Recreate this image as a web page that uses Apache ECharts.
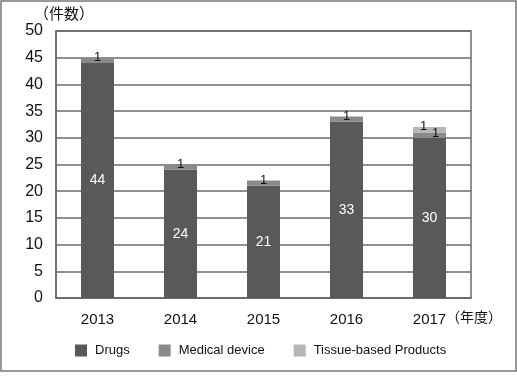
<!DOCTYPE html>
<html><head><meta charset="utf-8">
<script src="https://cdn.jsdelivr.net/npm/echarts@6/dist/echarts.min.js"></script>
<style>html,body{margin:0;padding:0;background:#fff}#c{width:517px;height:376px}</style>
</head><body><div id="c"></div>
<script>
const years = ['2013','2014','2015','2016','2017'];
const drugs = [44, 24, 21, 33, 30];
const medicalDevice = [1, 1, 1, 1, 1];
const tissueProducts = [0, 0, 0, 0, 1];
const yTicks = [0,5,10,15,20,25,30,35,40,45,50];

const font = '"Liberation Sans", Arial, sans-serif';
const chart = echarts.init(document.getElementById('c'));
function smallLabels(arr, dx) {
  return arr.map((v, i) => {
    const both = tissueProducts[i] > 0;
    return {
      value: v,
      label: {
        show: v > 0,
        offset: both ? [dx, dx > 0 ? 1 : -1] : [0, 0]
      }
    };
  });
}
const smallLabel = {
  show: true, position: ['50%', 0], align: 'center', verticalAlign: 'middle',
  color: '#111', fontSize: 13, fontFamily: font
};
chart.setOption({
  animation: false,
  grid: { left: 56, right: 46, top: 31, bottom: 78, show: true, borderColor: '#6a6a6a', borderWidth: 1.5 },
  xAxis: {
    type: 'category', data: years,
    axisLine: { lineStyle: { color: '#6a6a6a', width: 1.5 } },
    axisTick: { show: false },
    axisLabel: { color: '#111', fontSize: 15, fontFamily: font, margin: 14 }
  },
  yAxis: {
    type: 'value', min: 0, max: 50, interval: 5,
    axisLine: { show: true, lineStyle: { color: '#6a6a6a', width: 1.5 } },
    axisTick: { show: false },
    splitLine: { lineStyle: { color: '#6a6a6a', width: 1.5 } },
    axisLabel: { color: '#111', fontSize: 16, fontFamily: font, margin: 13,
      formatter: v => yTicks.includes(v) ? String(v) : '' }
  },
  legend: {
    bottom: 14, left: 70, itemWidth: 12, itemHeight: 12, itemGap: 29,
    icon: 'rect',
    textStyle: { color: '#111', fontSize: 13, fontFamily: font, padding: [0, 0, 0, 3] },
    data: ['Drugs', 'Medical device', 'Tissue-based Products']
  },
  graphic: [
    { type: 'rect', shape: { x: 1, y: 1, width: 515, height: 370 }, style: { fill: 'none', stroke: '#777', lineWidth: 1.5 }, silent: true },
    { type: 'text', left: 34, top: 6, style: { text: '（件数）', font: '15px "Noto Sans CJK JP"', fill: '#111' } },
    { type: 'text', left: 446, top: 310, style: { text: '（年度）', font: '14px "Noto Sans CJK JP"', fill: '#111' } }
  ],
  series: [
    { name: 'Drugs', type: 'bar', stack: 'a', barWidth: 33, data: drugs,
      itemStyle: { color: '#595959' },
      label: { show: true, position: 'inside', color: '#fff', fontSize: 14, fontFamily: font } },
    { name: 'Medical device', type: 'bar', stack: 'a', barWidth: 33, data: smallLabels(medicalDevice, 6),
      itemStyle: { color: '#8a8a8a' }, label: smallLabel },
    { name: 'Tissue-based Products', type: 'bar', stack: 'a', barWidth: 33, data: smallLabels(tissueProducts, -6),
      itemStyle: { color: '#b6b6b6' }, label: smallLabel }
  ]
});
</script></body></html>
